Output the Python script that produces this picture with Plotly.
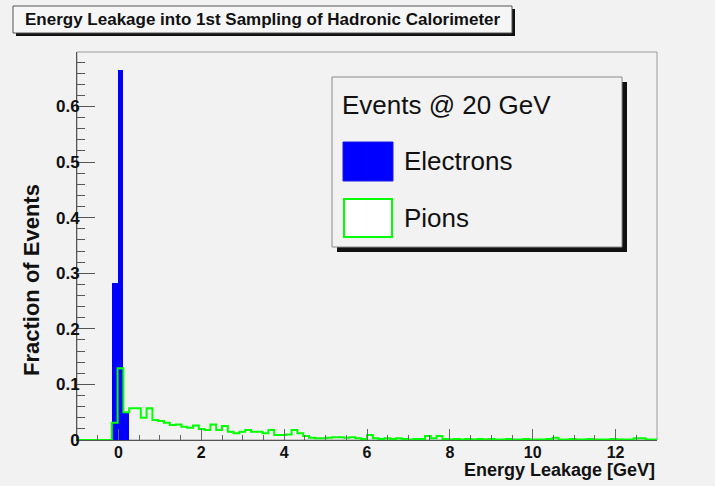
import plotly.graph_objects as go

# Histogram binning: 100 bins between -1 and 13 GeV
n_bins = 100
x_low = -1.0
x_high = 13.0

# Fraction of electron events per bin (only the bins around zero are filled)
electron_fraction = [0.0] * 6 + [0.282, 0.665, 0.049] + [0.0] * 91

# Fraction of pion events per bin
pion_fraction = [
    0.000, 0.000, 0.000, 0.000, 0.000, 0.000, 0.031, 0.129, 0.050, 0.057,
    0.057, 0.040, 0.057, 0.036, 0.034, 0.031, 0.027, 0.028, 0.024, 0.022,
    0.026, 0.020, 0.018, 0.028, 0.018, 0.025, 0.015, 0.012, 0.015, 0.018,
    0.015, 0.015, 0.012, 0.018, 0.009, 0.009, 0.010, 0.018, 0.012, 0.007,
    0.004, 0.003, 0.003, 0.004, 0.005, 0.005, 0.004, 0.005, 0.003, 0.002,
    0.009, 0.003, 0.002, 0.003, 0.002, 0.003, 0.002, 0.001, 0.002, 0.002,
    0.007, 0.003, 0.007, 0.002, 0.001, 0.002, 0.001, 0.002, 0.001, 0.002,
    0.001, 0.002, 0.001, 0.001, 0.002, 0.001, 0.001, 0.002, 0.001, 0.001,
    0.001, 0.002, 0.004, 0.001, 0.001, 0.002, 0.001, 0.001, 0.002, 0.001,
    0.001, 0.001, 0.002, 0.001, 0.001, 0.001, 0.003, 0.003, 0.001, 0.001,
]

title_text = "Energy Leakage into 1st Sampling of Hadronic Calorimeter"
legend_header = "Events @ 20 GeV"
series_names = ["Electrons", "Pions"]
x_title = "Energy Leakage [GeV]"
y_title = "Fraction of Events"

bin_width = (x_high - x_low) / n_bins
edges = [x_low + i * bin_width for i in range(n_bins + 1)]
centers = [x_low + (i + 0.5) * bin_width for i in range(n_bins)]

W, H = 715, 486
ML, MR, MT, MB = 77, 58, 52, 46
PW, PH = W - ML - MR, H - MT - MB

def px(x):
    return (x - ML) / PW

def py(y):
    return (H - MB - y) / PH

BG = "#f2f2f2"
BLUE = "#0000ff"
GREEN = "#00ff00"
FONT = "Liberation Sans"

fig = go.Figure()

fig.add_trace(go.Bar(
    x=centers, y=electron_fraction, width=bin_width,
    marker=dict(color=BLUE, line=dict(width=0)),
    name=series_names[0], showlegend=False,
))

# Pion histogram drawn as an outline (step line)
fig.add_trace(go.Scatter(
    x=edges, y=pion_fraction + [pion_fraction[-1]],
    mode="lines", line=dict(color=GREEN, width=2, shape="hv"),
    name=series_names[1], showlegend=False,
))

shapes = []
# plot frame (top/right in light grey)
shapes.append(dict(type="rect", xref="paper", yref="paper", x0=0, x1=1, y0=0, y1=1,
                   line=dict(color="#9a9a9a", width=1), layer="below"))

# title box with shadow
shapes.append(dict(type="rect", xref="paper", yref="paper",
                   x0=px(16), x1=px(515), y0=py(9), y1=py(36),
                   line=dict(width=0), fillcolor="#111111"))
shapes.append(dict(type="rect", xref="paper", yref="paper",
                   x0=px(13), x1=px(512), y0=py(6), y1=py(33),
                   line=dict(color="#555555", width=1), fillcolor="#f6f6f6"))

# legend box with shadow
shapes.append(dict(type="rect", xref="paper", yref="paper",
                   x0=px(337), x1=px(627), y0=py(82), y1=py(252),
                   line=dict(width=0), fillcolor="#111111"))
shapes.append(dict(type="rect", xref="paper", yref="paper",
                   x0=px(332), x1=px(622), y0=py(77), y1=py(247),
                   line=dict(color="#8a8a8a", width=1), fillcolor=BG))
# legend swatches
shapes.append(dict(type="rect", xref="paper", yref="paper",
                   x0=px(343), x1=px(393), y0=py(142), y1=py(181),
                   line=dict(color="#1a1aee", width=1), fillcolor=BLUE))
shapes.append(dict(type="rect", xref="paper", yref="paper",
                   x0=px(344), x1=px(392), y0=py(199), y1=py(237),
                   line=dict(color=GREEN, width=2), fillcolor="#ffffff"))

annotations = [
    dict(text=title_text, xref="paper", yref="paper", x=px(263), y=py(19.5),
         xanchor="center", yanchor="middle", showarrow=False,
         font=dict(family=FONT, size=17, color="#111111", weight="bold")),
    dict(text=legend_header, xref="paper", yref="paper", x=px(340), y=py(105),
         xanchor="left", yanchor="middle", showarrow=False,
         font=dict(family=FONT, size=26, color="#111111")),
    dict(text=series_names[0], xref="paper", yref="paper", x=px(402), y=py(161),
         xanchor="left", yanchor="middle", showarrow=False,
         font=dict(family=FONT, size=26, color="#111111")),
    dict(text=series_names[1], xref="paper", yref="paper", x=px(402), y=py(218),
         xanchor="left", yanchor="middle", showarrow=False,
         font=dict(family=FONT, size=26, color="#111111")),
    dict(text=x_title, xref="paper", yref="paper", x=px(657), y=py(470),
         xanchor="right", yanchor="middle", showarrow=False,
         font=dict(family=FONT, size=18, color="#111111", weight="bold")),
    dict(text=y_title, xref="paper", yref="paper", x=px(31), y=py(280),
         xanchor="center", yanchor="middle", showarrow=False, textangle=-90,
         font=dict(family=FONT, size=22, color="#111111", weight="bold")),
]

fig.update_layout(
    width=W, height=H,
    margin=dict(l=ML, r=MR, t=MT, b=MB, pad=0),
    paper_bgcolor=BG, plot_bgcolor=BG,
    barmode="overlay", bargap=0,
    shapes=shapes, annotations=annotations,
    showlegend=False,
    font=dict(family=FONT, color="#111111"),
)

fig.update_xaxes(
    range=[x_low, x_high], showgrid=False, zeroline=False,
    showline=True, linecolor="#555555", linewidth=1,
    ticks="inside", tickcolor="#666666", ticklen=11, tickwidth=1,
    tick0=0, dtick=2, ticklabelstandoff=-2,
    minor=dict(ticks="inside", dtick=0.5, tick0=0, ticklen=5, tickcolor="#666666"),
    tickfont=dict(family=FONT, size=16, color="#111111", weight="bold"),
)
fig.update_yaxes(
    range=[0, 0.698], showgrid=False, zeroline=False,
    showline=True, linecolor="#555555", linewidth=1,
    ticks="inside", tickcolor="#555555", ticklen=18, tickwidth=1,
    tick0=0, dtick=0.1, ticklabelstandoff=-7,
    minor=dict(ticks="inside", dtick=0.02, tick0=0, ticklen=8, tickcolor="#555555"),
    tickfont=dict(family=FONT, size=17, color="#111111", weight="bold"),
)

fig.write_html("out.html")
